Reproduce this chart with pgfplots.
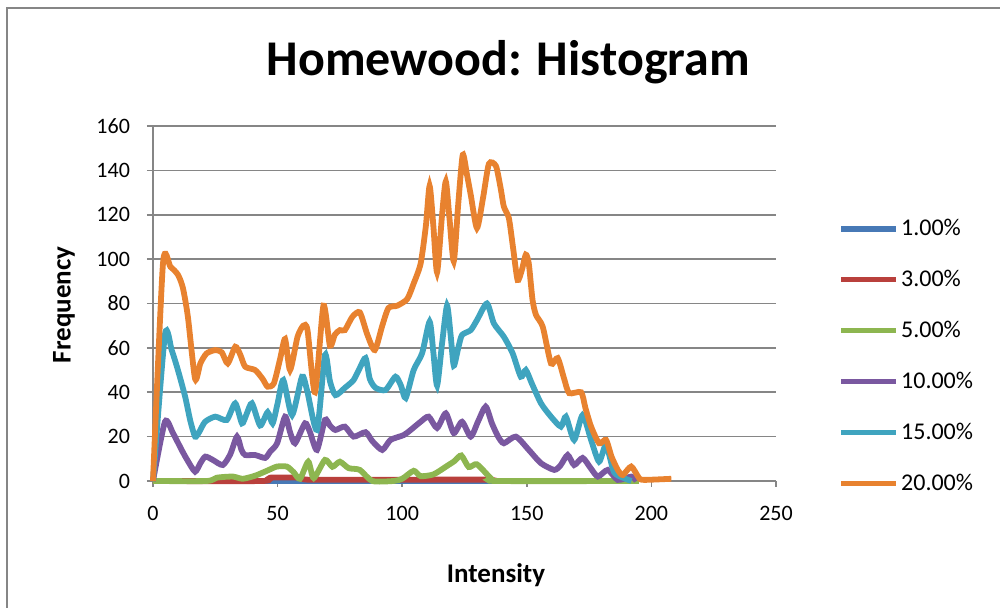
\documentclass[border=0pt]{standalone}
\usepackage{fontspec}
\setmainfont{Carlito}
\usepackage{pgfplots}
\pgfplotsset{compat=1.18}
\definecolor{axgray}{HTML}{868686}
\definecolor{cblue}{HTML}{4779B6}
\definecolor{cred}{HTML}{B9403C}
\definecolor{cgreen}{HTML}{8DB650}
\definecolor{cpurple}{HTML}{7A58A0}
\definecolor{cteal}{HTML}{3FA4BF}
\definecolor{corange}{HTML}{E8822F}

\begin{document}
\begin{tikzpicture}
\begin{axis}[
  scale only axis,
  width=311.5pt, height=177.5pt,
  xmin=0, xmax=250, ymin=0, ymax=160,
  xtick={0,50,...,250}, ytick={0,20,...,160},
  axis x line=bottom, axis y line=left,
  axis line style={-, draw=axgray, line width=0.8pt},
  ymajorgrids, grid style={draw=axgray, line width=0.8pt},
  tick align=outside, major tick length=3pt,
  tick style={draw=axgray, line width=0.8pt},
  ticklabel style={font=\fontsize{11}{13}\selectfont, text=black},
  yticklabel style={xshift=-5pt},
  xticklabel style={yshift=-6pt},
  /pgf/number format/assume math mode=true,
  clip=false,
  every axis plot/.append style={line width=2.9pt, smooth, tension=0.4},
  legend style={at={(axis description cs:1.0995,0.745)}, anchor=north west,
    draw=none, fill=none, font=\fontsize{12}{14}\selectfont,
    row sep=13.8pt, inner sep=0pt, nodes={inner sep=1pt}},
  legend cell align=left,
  legend image code/.code={\draw[#1] (0pt,0pt) -- (27.5pt,0pt);},
]
\addplot[cblue] coordinates {(0,0) (100,0) (190,0)};
\addplot[cred] coordinates {(0,0) (44,0) (47,1.5) (58,1.5) (62,0.6) (80,0.6) (100,0.6) (134,0.6) (137,0)};
\addplot[cgreen] coordinates {(0,0) (21.6,0) (25.6,1.5) (32,2) (36,1) (41,2.4) (45.7,4.6)
  (49.7,6.5) (53.7,6.5) (56.4,4) (59,1) (62.3,8.7) (64.5,1.3) (69,9.5) (72,6.4) (75,8.7)
  (78.5,5.8) (83,5) (88,0) (96.5,0) (100,1) (104.6,4.6) (107.4,2.2) (112.6,3) (118,6.8)
  (121,9) (123.7,11.5) (126.7,6.3) (130,7.5) (135.5,1.3) (138,0) (195,0)};
\addplot[cpurple] coordinates {(0,0) (4.8,26.7) (8,21.6) (11.5,14) (14,9) (16.9,4.2) (19,8)
  (21,11) (24,9.5) (28,7.2) (31,12) (33.7,20) (35.5,14) (37,11.7) (41,11.7) (45,10.4)
  (47,13.2) (49.8,17) (53,29) (55,22) (57,17) (61,26) (63,22) (65.8,14) (69,27.5) (71,25)
  (73.2,23) (77,24.5) (80.5,20) (85.3,22) (88,18) (92,14) (95.3,18.5) (100.6,20.7)
  (103.4,23) (107.4,26.7) (110.6,29) (114,23.9) (117.5,30.5) (120.7,21.6) (124,26.7)
  (127.5,20) (130.5,27) (133.5,33.5) (136,26) (138.5,20) (140.8,17) (145.6,20) (150.8,14)
  (155.7,8) (161,5) (163.5,7) (166.4,11.7) (169,7.2) (172.4,10.4) (175.5,6) (178.5,2)
  (182.5,5) (186.5,0.5) (192,2) (194,0)};
\addplot[cteal] coordinates {(0,0) (4.8,66) (7.5,59) (10,50) (12.9,38) (15,27) (16.9,20)
  (18.5,22) (20.9,26.7) (25,29) (29.6,27.5) (33,35) (35.7,26) (37.5,30) (39.7,35) (43,25)
  (46,31) (48,26) (50,35) (52.3,45.5) (55.8,29.7) (59.8,47) (61.8,41) (65.8,23) (69,56.8)
  (71,45) (73.2,38.7) (77,42) (80.5,45.5) (83,51) (85.3,55.4) (87,46) (89.3,42) (93.3,41)
  (97.3,47) (99.5,43) (101.4,37.4) (104.6,50) (108,57.6) (111,71.8) (112.5,58) (114,43)
  (116,62) (118,79) (119.5,65) (120.7,52) (122.5,60) (124,65.8) (127.5,68) (130,72.5)
  (134,80) (136.8,71) (140.8,65) (144.3,57.6) (147.6,47) (149.6,50) (152,44) (155.7,35)
  (159.7,29) (163.7,24.5) (165.7,29) (169,18.5) (172.4,29.7) (175.8,18.5) (179,8.7)
  (181.8,16.2) (185,4) (189,1.3) (192,0)};
\addplot[corange] coordinates {(0,0) (4,98) (7,96.5) (10,93) (12,87) (14,74) (16.9,46) (19,53)
  (21.5,57.5) (25,59) (27.6,58) (30,53) (33,60.5) (35,57) (37,51.5) (41,50) (44,46)
  (46,42.5) (48.5,44) (51,55) (53,64) (55,50) (58,65) (60.3,70) (62,68) (65,40) (68.4,79)
  (71,61) (73,66) (75,68) (77,68) (80,74) (83,76) (86,66) (89,59) (92,70) (94.5,78) (98,79)
  (102,82) (104.6,89) (107.4,98) (109.5,115) (111,133) (112.5,115) (114,94) (116,120)
  (117.5,135) (119,118) (120.7,99) (122.5,125) (124.3,147) (126,138) (127.5,129) (130,114)
  (132.5,128) (134.8,143) (137.6,142) (139.5,132) (140.8,123.6) (142.8,118.5) (144.5,105)
  (146.3,90.6) (148,95) (149.6,102) (150.8,98) (152.3,81.6) (153.7,74.8) (156.4,69.5)
  (159.7,53) (162.4,55.4) (165,46) (167,39.6) (171.8,40) (173.5,33) (175.8,24.5) (179,17)
  (181.8,18.5) (184,11) (186.5,5) (188.5,2.7) (191.9,6.5) (195,1.4) (197,0.5) (208,1)};
\legend{1.00\%,3.00\%,5.00\%,10.00\%,15.00\%,20.00\%}
\coordinate (O) at (rel axis cs:0,0);
\node[font=\bfseries\fontsize{25}{30}\selectfont] at (axis description cs:0.57,1.18) {Homewood: Histogram};
\node[font=\bfseries\fontsize{13.5}{16}\selectfont] at (axis description cs:0.5506,-0.265) {Intensity};
\node[rotate=90, font=\bfseries\fontsize{13.5}{16}\selectfont] at (axis description cs:-0.143,0.496) {Frequency};
\end{axis}
\draw[axgray, line width=1.2pt] ([shift={(-73pt,-63.5pt)}]O) |- ++(496.5pt,300pt);
\pgfresetboundingbox
\path[use as bounding box] ([shift={(-76.5pt,-63.5pt)}]O) rectangle ++(500pt,304pt);
\end{tikzpicture}
\end{document}
